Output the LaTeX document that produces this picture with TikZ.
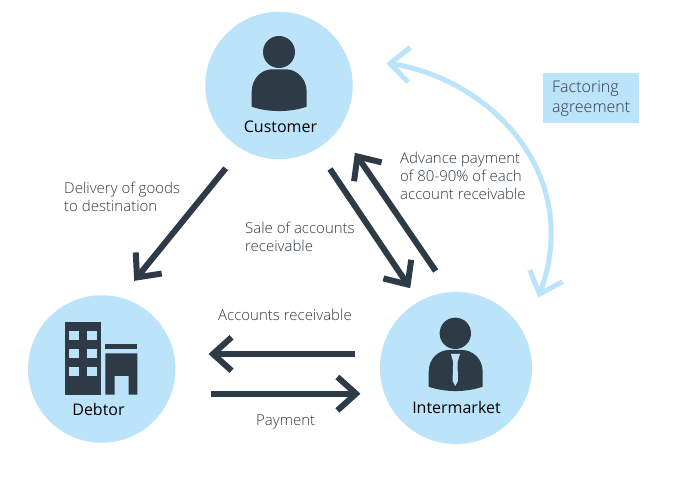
\documentclass[tikz,border=0pt]{standalone}
\usepackage{fontspec}
\setmainfont{Open Sans}
\newfontfamily\lightface{Open Sans Light}
\usetikzlibrary{calc}
\definecolor{skyfill}{HTML}{BBE3FA}
\definecolor{inkdark}{HTML}{2E3A46}
\definecolor{labelgray}{HTML}{2E3A46}
\newcommand{\openhead}[4][inkdark]{% colour, aim point, vertex, barb length
  \draw[draw=#1,miter limit=10] ($(#3)!#4!42:(#2)$) -- (#3) -- ($(#3)!#4!-42:(#2)$);}
\tikzset{
  x=1pt,y=-1pt,
  party/.style={circle,fill=skyfill,minimum size=#1,inner sep=0pt},
  partyname/.style={font=\fontsize{16}{18}\selectfont,text=black,inner sep=0pt},
  flowlabel/.style={font=\lightface\fontsize{15}{18}\selectfont,text=labelgray,align=left,anchor=north west,inner sep=0pt},
  factlabelstyle/.style={font=\fontsize{16}{20}\selectfont\lightface,text=labelgray,align=left,anchor=west,inner sep=0pt},
  flow/.style={draw=inkdark,line width=6pt},
  pact/.style={draw=skyfill,line width=5pt},
  icon/.style={fill=inkdark,draw=none},
}
\begin{document}
\begin{tikzpicture}
\useasboundingbox (0,0) rectangle (694,478);
\node[party=147.5pt] (customer) at (279,85.5) {};
\node[party=147.5pt] (debtor) at (101.7,369) {};
\node[party=152pt] (intermarket) at (456,368) {};
% customer icon
\fill[icon] (279,52) circle (16);
\fill[icon] (251.7,106.7) -- (251.7,92) .. controls (251.7,78) and (262,69.3) .. (272,69.3) -- (286,69.3) .. controls (296,69.3) and (306.7,78) .. (306.7,92) -- (306.7,106.7) .. controls (290,112.5) and (268,112.5) .. (251.7,106.7) -- cycle;
% debtor icon
\fill[icon] (64.7,322) rectangle (101,394.7);
\foreach \wx in {69.3,87.3} \foreach \wy in {330.7,348.7,367}
  \fill[skyfill] (\wx,\wy) rectangle +(9.4,9.3);
\fill[icon] (105.3,344) rectangle (137.3,349.3);
\fill[icon] (105.3,353.3) -- (137.3,353.3) -- (137.3,394.7) -- (128.7,394.7) -- (128.7,376) -- (114.7,376) -- (114.7,394.7) -- (105.3,394.7) -- cycle;
% intermarket icon
\fill[icon] (455.3,333.3) circle (15.7);
\fill[icon] (428.7,386.7) -- (428.7,372) .. controls (428.7,358) and (439,350) .. (449,350) -- (462,350) .. controls (472,350) and (482.7,358) .. (482.7,372) -- (482.7,386.7) .. controls (466,392.5) and (445,392.5) .. (428.7,386.7) -- cycle;
\fill[skyfill] (451,354) -- (460,354) -- (457.5,362) -- (458,381) -- (455.3,386) -- (452.6,381) -- (453.1,362) -- cycle;
% names
\node[partyname] (customername) at (280.5,127) {Customer};
\node[partyname] (debtorname) at (98.5,410) {Debtor};
\node[partyname] (intermarketname) at (456.5,407.5) {Intermarket};
% connector ends
\coordinate (delA) at (225.7,168.3); \coordinate (delB) at (137,277.4);
\coordinate (saleA) at (330,169); \coordinate (saleB) at (407.7,284.5);
\coordinate (advA) at (435.7,271); \coordinate (advB) at (357.4,156.5);
\coordinate (recA) at (354.5,354); \coordinate (recB) at (213,354);
\coordinate (payA) at (210.7,393.7); \coordinate (payB) at (356,393.7);
\coordinate (pactA) at (390,63.5); \coordinate (pactB) at (539.5,294);
\coordinate (pactAaim) at (405.5,64.5); \coordinate (pactBaim) at (544,281.5);
\begin{scope}[flow]
\draw (delA) -- (delB); \openhead{delA}{delB}{25pt}
\draw (saleA) -- (saleB); \openhead{saleA}{saleB}{25pt}
\draw (advA) -- (advB); \openhead{advA}{advB}{25pt}
\draw (recA) -- (recB); \openhead{recA}{recB}{25pt}
\draw (payA) -- (payB); \openhead{payA}{payB}{25pt}
\end{scope}
\begin{scope}[pact]
\draw (pactA) .. controls (490,78) and (585,175) .. (pactB);
\openhead[skyfill]{pactAaim}{pactA}{26pt}
\openhead[skyfill]{pactBaim}{pactB}{26pt}
\end{scope}
% labels
\node[flowlabel] (l1) at (64,181.5) {Delivery of goods\\to destination};
\node[flowlabel] (l2) at (245,221.5) {Sale of accounts\\receivable};
\node[flowlabel] (l3) at (400,152) {Advance payment\\of 80-90\% of each\\account receivable};
\node[flowlabel] (l4) at (218,309) {Accounts receivable};
\node[flowlabel] (l5) at (256,414.5) {Payment};
\node[fill=skyfill,minimum width=95.7pt,minimum height=49.4pt,inner sep=0pt] (factbox) at (591.2,98) {};
\node[factlabelstyle] (factlabel) at (552,99) {Factoring\\agreement};
\end{tikzpicture}
\end{document}
